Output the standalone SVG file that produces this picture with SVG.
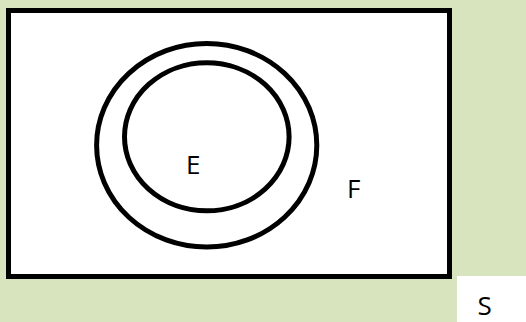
<svg xmlns="http://www.w3.org/2000/svg" width="526" height="322" viewBox="0 0 526 322">
  <style>
    .line { fill: none; stroke: #000000; stroke-width: 5; }
    .label { font-family: "Open Sans", "Noto Sans", "Liberation Sans", sans-serif; font-size: 26px; fill: #000000; }
  </style>
  <rect x="0" y="0" width="526" height="322" fill="#d7e4bd"/>
  <g id="universe">
    <rect x="8.5" y="10.5" width="441" height="266" fill="#ffffff" stroke="#000000" stroke-width="5"/>
  </g>
  <g id="set-F">
    <ellipse class="line" cx="206.7" cy="145.3" rx="110.1" ry="101.8"/>
    <text class="label" x="347" y="198">F</text>
  </g>
  <g id="set-E">
    <ellipse class="line" cx="206.8" cy="136.8" rx="82.3" ry="74"/>
    <text class="label" x="186" y="174">E</text>
  </g>
  <g id="label-S">
    <rect x="457" y="276" width="69" height="46" fill="#ffffff"/>
    <text class="label" x="477.5" y="315">S</text>
  </g>
  <g id="connectors"/>
</svg>
